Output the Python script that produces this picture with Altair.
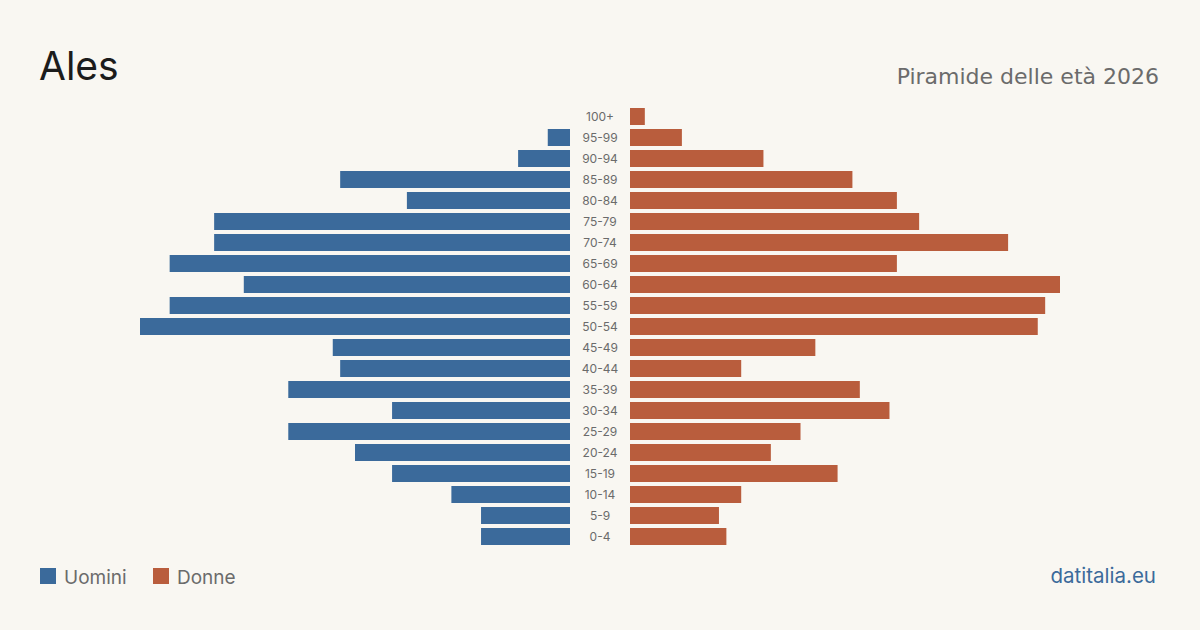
import altair as alt
import pandas as pd

ages = ["100+", "95-99", "90-94", "85-89", "80-84", "75-79", "70-74", "65-69",
        "60-64", "55-59", "50-54", "45-49", "40-44", "35-39", "30-34", "25-29",
        "20-24", "15-19", "10-14", "5-9", "0-4"]
uomini = [0, 3, 7, 31, 22, 48, 48, 54, 44, 54, 58, 32, 31, 38, 24, 38, 29, 24, 16, 12, 12]
donne = [2, 7, 18, 30, 36, 39, 51, 36, 58, 56, 55, 25, 15, 31, 35, 23, 19, 28, 15, 12, 13]

title_text = "Ales"
subtitle_text = "Piramide delle età 2026"
legend_labels = ["Uomini", "Donne"]
source_text = "datitalia.eu"

BLUE = "#3b6a9b"
ORANGE = "#b95d3d"
BG = "#f9f7f2"
FONT = "Inter"

df = pd.DataFrame({"age": ages, "uomini": uomini, "donne": donne})

ymax = max(max(uomini), max(donne))
yscale = alt.Scale(domain=ages, range=[106, 547], paddingInner=0.19, paddingOuter=0.095)

men = alt.Chart(df).mark_bar(color=BLUE).encode(
    y=alt.Y("age:N", scale=yscale, axis=None, sort=ages),
    x=alt.X("uomini:Q", scale=alt.Scale(domain=[0, ymax], range=[570, 140], nice=False, zero=True), axis=None),
    x2=alt.X2(datum=0),
)
women = alt.Chart(df).mark_bar(color=ORANGE).encode(
    y=alt.Y("age:N", scale=yscale, axis=None, sort=ages),
    x=alt.X("donne:Q", scale=alt.Scale(domain=[0, ymax], range=[630, 1060], nice=False, zero=True), axis=None),
    x2=alt.X2(datum=0),
)
labels = alt.Chart(df).mark_text(font=FONT, fontSize=12, color="#6b6b6b", align="center", baseline="middle").encode(
    y=alt.Y("age:N", scale=yscale, axis=None, sort=ages),
    x=alt.value(600),
    text="age:N",
)

def txt(t, x, y, size, color, align="left", weight="normal", font=FONT):
    return alt.Chart(pd.DataFrame({"t": [t]})).mark_text(
        font=font, fontSize=size, color=color, align=align, baseline="alphabetic", fontWeight=weight
    ).encode(x=alt.value(x), y=alt.value(y), text="t:N")

def sq(x, color):
    return alt.Chart(pd.DataFrame({"a": [0]})).mark_rect(color=color).encode(
        x=alt.value(x), x2=alt.value(x + 16), y=alt.value(568), y2=alt.value(584)
    )

chart = alt.layer(
    men, women, labels,
    txt(title_text, 39, 80, 39, "#1c1c1c"),
    txt(subtitle_text, 1159, 84, 22, "#6b6b6b", align="right", font="DejaVu Sans"),
    sq(40, BLUE), txt(legend_labels[0], 64, 584, 19, "#6b6b6b"),
    sq(153, ORANGE), txt(legend_labels[1], 177, 584, 19, "#6b6b6b"),
    txt(source_text, 1156, 583, 20.5, BLUE, align="right"),
).resolve_scale(x="independent").properties(
    width=1200, height=630, background=BG, padding=0,
    autosize=alt.AutoSizeParams(type="none"),
).configure_view(stroke=None)

chart.save("out.html", embed_options={"renderer": "svg", "actions": False})
